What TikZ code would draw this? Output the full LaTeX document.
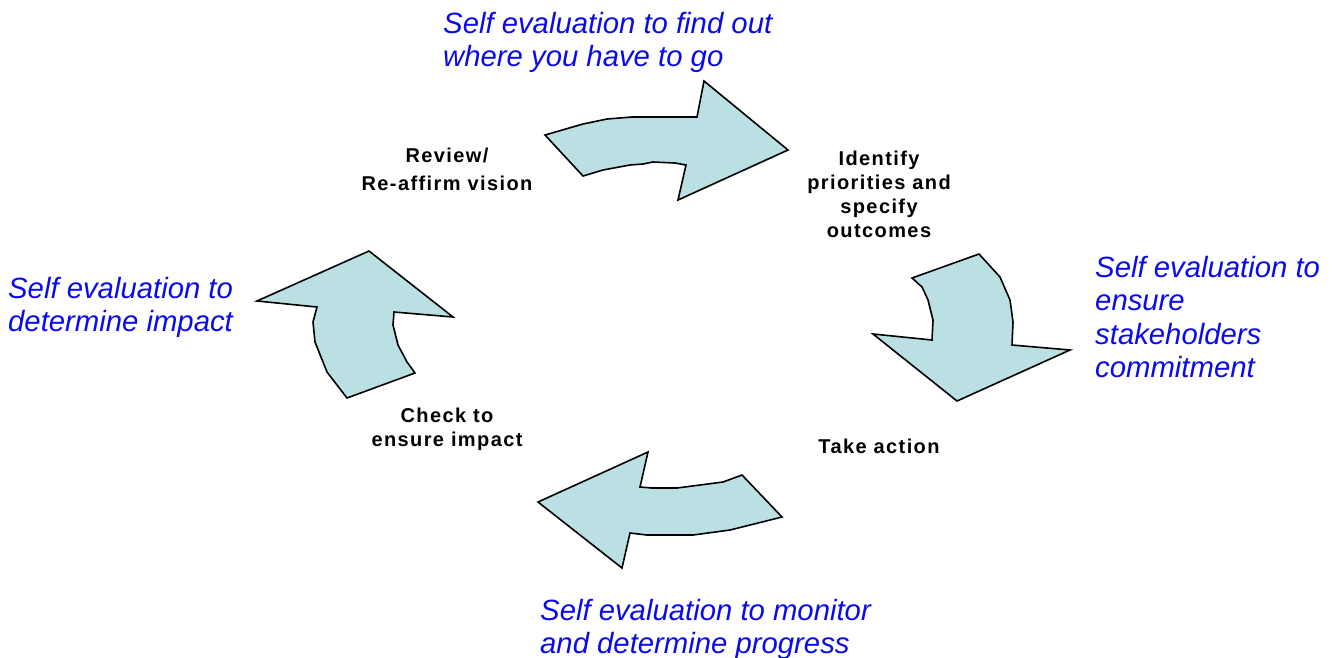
\documentclass[tikz,border=0pt]{standalone}
\usepackage{fontspec}
\setmainfont{Liberation Sans}
\newfontfamily\stepfont[LetterSpace=7]{Liberation Sans}
\definecolor{evalblue}{RGB}{10,10,235}
\definecolor{arrowfill}{RGB}{187,224,227}
\tikzset{
  cyclearrow/.style={fill=arrowfill, draw=black, line width=1.6pt, line join=miter},
  evaltext/.style={text=evalblue, inner sep=0pt, align=left, anchor=base west,
    font=\itshape\fontsize{29.3}{33.5}\selectfont},
  steptext/.style={text=black, inner sep=0pt, align=center, anchor=base,
    font=\stepfont\bfseries\fontsize{20}{24}\selectfont}
}
\begin{document}
\begin{tikzpicture}[x=1pt,y=1pt]
\useasboundingbox (0,0) rectangle (1332,-657);
% cycle arrows
\draw [cyclearrow] (545,-135) -- (583,-124) -- (607,-119) -- (632,-117) -- (697,-117) -- (704,-81) -- (788,-150) -- (678,-200) -- (686,-165) -- (675,-163) -- (653,-162) -- (643,-164) -- (630,-165) -- (603,-170) -- (583,-176) -- cycle;
\draw [cyclearrow] (912,-278) -- (979,-254) -- (1000,-277) -- (1010,-300) -- (1013,-322) -- (1012,-345) -- (1070,-350) -- (957,-401) -- (873,-334) -- (932,-340) -- (933,-320) -- (928,-300) -- (922,-287) -- cycle;
\draw [cyclearrow] (648,-452) -- (538,-502) -- (622,-568) -- (630,-533) -- (647,-535) -- (693,-535) -- (730,-530) -- (782,-517) -- (742,-475) -- (723,-482) -- (677,-488) -- (652,-488) -- (640,-487) -- cycle;
\draw [cyclearrow] (257,-301) -- (369,-251) -- (453,-317) -- (394,-312) -- (393,-325) -- (398,-345) -- (407,-362) -- (415,-373) -- (347,-398) -- (327,-372) -- (315,-342) -- (313,-322) -- (317,-307) -- cycle;
% stages (anchored at the baseline of the last line)
\node [steptext] (review) at (447,-190) {Review/\\[4pt]Re-affirm vision};
\node [steptext] (identify) at (879,-237) {Identify\\priorities and\\specify\\outcomes};
\node [steptext] (action) at (879,-453) {Take action};
\node [steptext] (check) at (447,-446) {Check to\\ensure impact};
% self evaluation
\node [evaltext] (evalgo) at (443,-66.5) {Self evaluation to find out\\where you have to go};
\node [evaltext] (evalcommit) at (1095,-377.5) {Self evaluation to\\ensure\\stakeholders\\commitment};
\node [evaltext] (evalprogress) at (540,-653.5) {Self evaluation to monitor\\and determine progress};
\node [evaltext] (evalimpact) at (8,-331.5) {Self evaluation to\\determine impact};
\end{tikzpicture}
\end{document}
